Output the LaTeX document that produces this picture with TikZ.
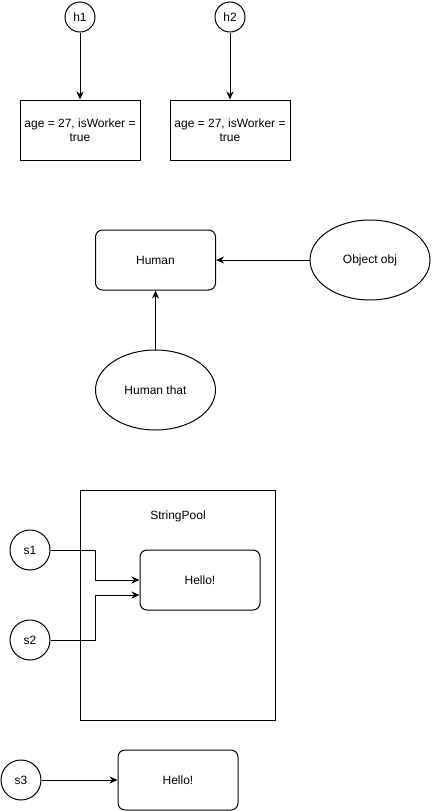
\documentclass[tikz,border=0pt]{standalone}
\usepackage{fontspec}
\setmainfont{Liberation Sans}
\usetikzlibrary{arrows.meta,shapes.geometric,calc}
\begin{document}
\begin{tikzpicture}[x=1pt,y=-1pt,line width=1pt,
  every node/.style={font=\fontsize{12}{14}\selectfont,inner sep=0pt},
  circ/.style={draw,circle,minimum size=30pt},
  bigcirc/.style={draw,circle,minimum size=40pt},
  box/.style={draw,rectangle,minimum width=120pt,minimum height=60pt,align=center},
  rbox/.style={draw,rectangle,rounded corners=7pt,minimum width=120pt,minimum height=60pt},
  ell/.style={draw,ellipse,minimum width=120pt,minimum height=80pt},
  arr/.style={-{Stealth[length=8pt,width=7pt,inset=2.5pt]}}]
\useasboundingbox (0,0) rectangle (431,811);
% top
\node[circ] (h1) at (80,17) {h1};
\node[circ] (h2) at (230,17) {h2};
\node[box] (o1) at (80,130) {age = 27, isWorker =\\ true};
\node[box] (o2) at (230,130) {age = 27, isWorker =\\ true};
\draw[arr] (h1) -- (o1);
\draw[arr] (h2) -- (o2);
% middle
\node[rbox] (human) at (155.5,260) {Human};
\node[ell] (obj) at (370,260) {Object obj};
\node[ell] (that) at (155.5,390) {Human that};
\draw[arr] (obj) -- (human);
\draw[arr] (that) -- (human);
% string pool
\node[draw,rectangle,minimum width=195pt,minimum height=230pt] (pool) at (177.5,605) {};
\node (pooltxt) at (178,516) {StringPool};
\node[rbox] (hello) at (200,580) {Hello!};
\node[bigcirc] (s1) at (30,550) {s1};
\node[bigcirc] (s2) at (30,640) {s2};
\draw[arr] (s1.east) -- ++(45,0) |- (hello.west);
\draw[arr] (s2.east) -- ++(45,0) |- ($(hello.west)+(0,15)$);
% bottom
\node[bigcirc] (s3) at (21,780) {s3};
\node[rbox] (hello2) at (178,780) {Hello!};
\draw[arr] (s3) -- (hello2);
\end{tikzpicture}
\end{document}
